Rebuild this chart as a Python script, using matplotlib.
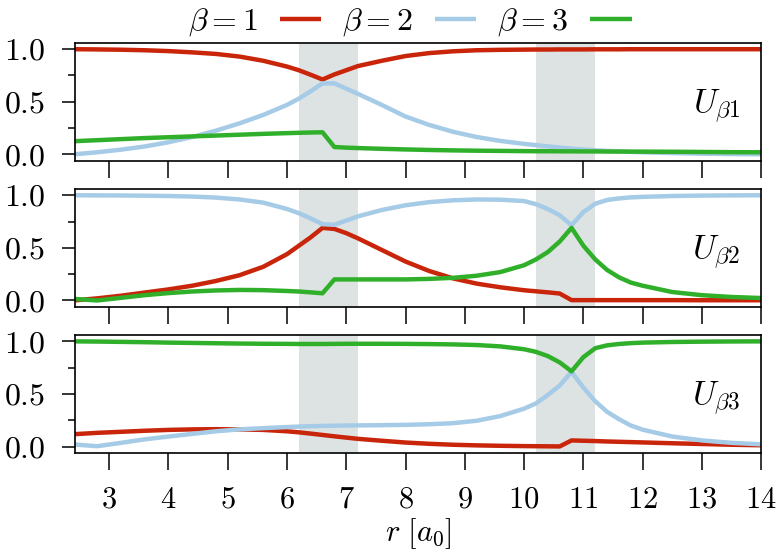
import matplotlib
matplotlib.use("Agg")
import matplotlib.pyplot as plt

plt.rcParams["font.family"] = "serif"
plt.rcParams["font.serif"] = ["cmr10"]
plt.rcParams["mathtext.fontset"] = "cm"
plt.rcParams["axes.unicode_minus"] = False
plt.rcParams["axes.formatter.use_mathtext"] = True

# radial grid [a0]
r = [2.4, 2.8, 3.2, 3.6, 4.0, 4.4, 4.8, 5.2, 5.6, 6.0, 6.2, 6.4, 6.6, 6.8, 7.0, 7.2,
     7.6, 8.0, 8.4, 8.8, 9.2, 9.6, 10.0, 10.2, 10.4, 10.6, 10.8, 11.0, 11.2, 11.4, 11.6,
     11.8, 12.0, 12.5, 13.0, 13.5, 14.0]

# panel U_b1
u11 = [1.0, 0.998, 0.995, 0.99, 0.982, 0.97, 0.955, 0.93, 0.89, 0.835, 0.80, 0.757, 0.712,
       0.76, 0.80, 0.84, 0.89, 0.935, 0.963, 0.98, 0.99, 0.994, 0.996, 0.997, 0.997, 0.998,
       0.998, 0.998, 0.999, 0.999, 0.999, 1.0, 1.0, 1.0, 1.0, 1.0, 1.0]
u21 = [0.0, 0.02, 0.045, 0.075, 0.115, 0.165, 0.225, 0.295, 0.375, 0.47, 0.53, 0.6, 0.675,
       0.675, 0.625, 0.575, 0.47, 0.36, 0.28, 0.215, 0.165, 0.128, 0.1, 0.088, 0.076, 0.065,
       0.055, 0.046, 0.039, 0.033, 0.028, 0.024, 0.02, 0.012, 0.007, 0.003, 0.001]
u31 = [0.125, 0.135, 0.145, 0.155, 0.163, 0.171, 0.179, 0.187, 0.195, 0.202, 0.205, 0.208,
       0.21, 0.07, 0.064, 0.06, 0.053, 0.047, 0.042, 0.038, 0.035, 0.033, 0.031, 0.03, 0.03,
       0.029, 0.029, 0.028, 0.028, 0.027, 0.027, 0.026, 0.026, 0.025, 0.023, 0.021, 0.02]

# panel U_b2
u12 = [0.0, 0.02, 0.045, 0.075, 0.105, 0.14, 0.185, 0.24, 0.32, 0.44, 0.52, 0.6, 0.69,
       0.68, 0.64, 0.59, 0.48, 0.37, 0.28, 0.21, 0.16, 0.125, 0.097, 0.087, 0.077, 0.066,
       0.003, 0.003, 0.003, 0.003, 0.003, 0.003, 0.003, 0.003, 0.002, 0.002, 0.002]
u22 = [1.0, 0.999, 0.998, 0.996, 0.993, 0.988, 0.978, 0.96, 0.93, 0.87, 0.83, 0.78, 0.725,
       0.72, 0.76, 0.8, 0.86, 0.905, 0.935, 0.952, 0.96, 0.958, 0.945, 0.915, 0.87, 0.81,
       0.715, 0.84, 0.92, 0.955, 0.97, 0.98, 0.985, 0.993, 0.997, 0.999, 1.0]
u32 = [0.015, 0.0, 0.025, 0.05, 0.07, 0.085, 0.095, 0.1, 0.098, 0.09, 0.085, 0.077, 0.068,
       0.2, 0.2, 0.2, 0.2, 0.2, 0.205, 0.215, 0.235, 0.27, 0.335, 0.39, 0.46, 0.56, 0.69,
       0.52, 0.39, 0.29, 0.22, 0.17, 0.14, 0.08, 0.05, 0.033, 0.023]

# panel U_b3
u13 = [0.117, 0.13, 0.14, 0.15, 0.158, 0.163, 0.165, 0.163, 0.158, 0.145, 0.135, 0.123,
       0.11, 0.097, 0.085, 0.073, 0.055, 0.038, 0.026, 0.017, 0.011, 0.007, 0.004, 0.003,
       0.002, 0.001, 0.058, 0.055, 0.052, 0.048, 0.045, 0.042, 0.039, 0.031, 0.024, 0.017,
       0.012]
u23 = [0.02, 0.003, 0.035, 0.068, 0.095, 0.12, 0.145, 0.163, 0.175, 0.185, 0.19, 0.193,
       0.196, 0.198, 0.2, 0.201, 0.203, 0.206, 0.212, 0.222, 0.245, 0.29, 0.36, 0.41, 0.49,
       0.58, 0.71, 0.56, 0.43, 0.33, 0.26, 0.2, 0.16, 0.095, 0.058, 0.035, 0.021]
u33 = [1.0, 0.998, 0.995, 0.992, 0.988, 0.985, 0.982, 0.979, 0.977, 0.976, 0.975, 0.975,
       0.975, 0.976, 0.977, 0.977, 0.977, 0.976, 0.974, 0.971, 0.965, 0.952, 0.925, 0.9,
       0.86, 0.8, 0.715, 0.85, 0.935, 0.962, 0.975, 0.983, 0.988, 0.994, 0.997, 0.999, 1.0]

panels = [
    ("$U_{\\beta 1}$", [u11, u21, u31]),
    ("$U_{\\beta 2}$", [u12, u22, u32]),
    ("$U_{\\beta 3}$", [u13, u23, u33]),
]
beta_labels = ["$\\beta = 1$", "$\\beta = 2$", "$\\beta = 3$"]
colors = ["#c8250a", "#a6cbe6", "#30b02a"]
spans = [(6.2, 7.2), (10.2, 11.2)]

fig, axes = plt.subplots(3, 1, figsize=(7.76, 5.57), dpi=100, sharex=True)
fig.subplots_adjust(left=0.097, right=0.981, bottom=0.187, top=0.923, hspace=0.24)

fs = 23
for ax, (name, series) in zip(axes, panels):
    for lo, hi in spans:
        ax.axvspan(lo, hi, color="#dde3e3", lw=0, zorder=0)
    for vals, c, lab in zip(series, colors, beta_labels):
        ax.plot(r, vals, color=c, lw=3.2, label=lab, solid_capstyle="butt")
    ax.set_xlim(2.43, 14)
    ax.set_ylim(-0.06, 1.06)
    ax.set_yticks([0, 0.5, 1.0])
    ax.set_yticks([0.25, 0.75], minor=True)
    ax.tick_params(axis="y", which="major", length=9.5, width=1.1, pad=12, labelsize=fs)
    ax.tick_params(axis="y", which="minor", length=5, width=1.1)
    ax.tick_params(axis="x", which="major", length=12, width=1.1, pad=12, labelsize=22)
    for sp in ax.spines.values():
        sp.set_linewidth(1.2)
    ax.text(0.97, 0.46, name, transform=ax.transAxes, ha="right", va="center", fontsize=fs + 1)

axes[-1].set_xticks(range(3, 15))
axes[-1].set_xlabel("$r\\ [a_0]$", fontsize=22, labelpad=2)

handles, labels = axes[0].get_legend_handles_labels()
fig.legend(handles, labels, loc="center", bbox_to_anchor=(0.528, 0.960), ncol=3,
           frameon=False, markerfirst=False, fontsize=fs, handlelength=1.3,
           handletextpad=0.7, columnspacing=0.65, borderpad=0, borderaxespad=0)

fig.savefig("out.png", dpi=100)
